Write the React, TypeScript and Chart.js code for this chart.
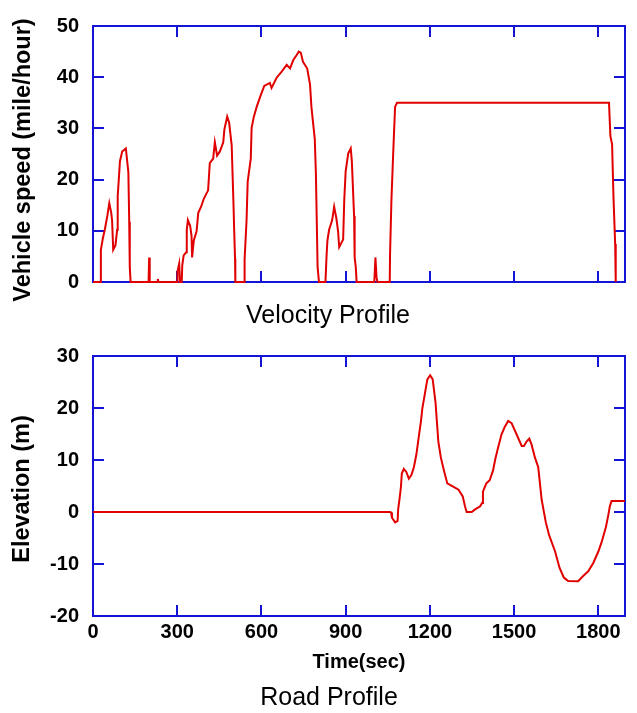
import React, { useEffect, useRef } from "react";
import { Chart, registerables } from "chart.js";

Chart.register(...registerables);

// ---------- data ----------
const velTime = [
  0, 19, 25, 28, 35, 42, 51, 58, 65, 68, 72, 80, 86, 88, 96, 104, 117, 126, 129, 131, 134,
  198, 200, 202, 230, 231, 233, 300, 301, 307, 310, 316, 318, 323, 332, 334, 338, 346, 351,
  353, 359, 369, 375, 385, 395, 410, 416, 428, 434, 442, 452, 464, 468, 478, 485, 494, 500,
  503, 506, 507, 538, 540, 547, 551, 562, 565, 573, 583, 595, 610, 630, 636, 654, 672, 690,
  702, 713, 725, 733, 740, 748, 763, 773, 778, 790, 794, 797, 800, 805, 828, 832, 835, 841,
  852, 859, 867, 873, 877, 891, 895, 900, 909, 918, 922, 930, 932, 936, 939, 1002, 1006,
  1010, 1013, 1057, 1058, 1063, 1069, 1076, 1083, 1838, 1843, 1849, 1854, 1860, 1862,
];
const velSpeed = [
  0, 0, 0, 6.3, 8.5, 10.2, 12.9, 15.4, 13.5, 12, 6.3, 7.2, 10.2, 16.7, 23.6, 25.5, 26.1, 21.4,
  11.7, 2.9, 0, 0, 4.8, 0, 0, 0.6, 0, 0, 2.1, 3.6, 0, 0, 3.3, 5.2, 5.8, 10.2, 12.1, 11.0, 9.0,
  4.8, 8.1, 9.9, 13.5, 14.7, 16.3, 17.9, 23.2, 24.1, 27.3, 24.7, 25.5, 27.3, 29.8, 32.3, 31.1,
  26.7, 16.0, 9.9, 4.6, 0, 0, 4.4, 12.1, 19.6, 24.1, 30.1, 32.3, 34.2, 36.1, 38.3, 38.9, 37.9,
  39.9, 41.1, 42.4, 41.7, 43.3, 44.3, 45.0, 44.8, 43.0, 41.7, 38.6, 34.2, 27.9, 21.1, 12.1,
  2.9, 0, 0, 5.2, 8.1, 10.2, 12.1, 14.7, 12.4, 9.9, 6.8, 8.3, 16.0, 21.6, 25.1, 26.1, 23.6,
  12.9, 4.8, 2.9, 0, 0, 4.8, 0.9, 0, 0, 5.2, 16.0, 24.7, 34.2, 35.0, 35.0, 28.5, 26.9, 16.5,
  7.4, 0,
];

const elevTime = [
  0, 1057, 1062, 1065, 1076, 1085, 1087, 1093, 1097, 1100, 1107, 1116, 1125, 1134, 1143, 1152,
  1160, 1168, 1173, 1183, 1191, 1201, 1210, 1220, 1230, 1239, 1250, 1262, 1283, 1302, 1317,
  1325, 1331, 1349, 1361, 1379, 1386, 1389, 1401, 1413, 1425, 1433, 1443, 1455, 1467, 1479,
  1491, 1509, 1527, 1535, 1545, 1554, 1562, 1574, 1586, 1598, 1613, 1625, 1646, 1662, 1677,
  1692, 1728, 1746, 1764, 1782, 1800, 1812, 1827, 1835, 1841, 1847, 1895,
];
const elevValue = [
  0, 0, -0.1, -1.1, -2.0, -1.7, 0.5, 3.0, 4.9, 7.4, 8.3, 7.7, 6.4, 7.1, 8.6, 11.1, 14.3, 17.4,
  19.9, 23.0, 25.5, 26.3, 25.5, 21.1, 13.6, 10.5, 8.0, 5.5, 4.9, 4.3, 3.0, 1.1, 0, 0, 0.5, 1.1,
  1.75, 3.9, 5.5, 6.1, 8.0, 10.2, 12.4, 14.9, 16.4, 17.5, 17.1, 14.9, 12.7, 12.7, 13.6, 14.1,
  13.0, 10.5, 8.6, 2.4, -2.0, -4.5, -7.6, -10.75, -12.6, -13.25, -13.3, -12.3, -11.4, -9.8,
  -7.6, -5.75, -2.9, -0.75, 1.1, 2.1, 2.1,
];

const timeTicks = [0, 300, 600, 900, 1200, 1500, 1800];
const speedTicks = [0, 10, 20, 30, 40, 50];
const elevTicks = [-20, -10, 0, 10, 20, 30];
const timeMax = 1895;

// ---------- style ----------
const AXIS = "rgb(20,20,215)";
const LINE = "rgb(225,0,0)";
const FONT = "'Liberation Sans', Arial, Helvetica, sans-serif";
const TICK_LEN = 11;

type FrameOpts = {
  yTitle: string;
  yTitleX: number;
  yTitleY: number;
  caption: string;
  captionX: number;
  captionY: number;
  yTicks: number[];
};

function framePlugin(o: FrameOpts) {
  return {
    id: "frame",
    beforeDatasetsDraw(chart: any) {
      const { ctx, chartArea: a, scales } = chart;
      const xs = scales.x;
      const ys = scales.y;
      ctx.save();
      ctx.strokeStyle = AXIS;
      ctx.lineWidth = 2;
      ctx.strokeRect(a.left, a.top, a.right - a.left, a.bottom - a.top);
      ctx.beginPath();
      for (const v of timeTicks) {
        const px = Math.round(xs.getPixelForValue(v));
        ctx.moveTo(px, a.bottom);
        ctx.lineTo(px, a.bottom - TICK_LEN);
        ctx.moveTo(px, a.top);
        ctx.lineTo(px, a.top + TICK_LEN);
      }
      for (const v of o.yTicks) {
        const py = Math.round(ys.getPixelForValue(v));
        ctx.moveTo(a.left, py);
        ctx.lineTo(a.left + TICK_LEN, py);
        ctx.moveTo(a.right, py);
        ctx.lineTo(a.right - TICK_LEN, py);
      }
      ctx.stroke();
      ctx.restore();
    },
    afterDraw(chart: any) {
      const { ctx } = chart;
      ctx.save();
      ctx.fillStyle = "#000";
      ctx.font = `bold 23.5px ${FONT}`;
      ctx.textAlign = "center";
      ctx.textBaseline = "middle";
      ctx.translate(o.yTitleX, o.yTitleY);
      ctx.rotate(-Math.PI / 2);
      ctx.fillText(o.yTitle, 0, 0);
      ctx.restore();
      ctx.save();
      ctx.fillStyle = "#000";
      ctx.font = `25px ${FONT}`;
      ctx.textAlign = "center";
      ctx.textBaseline = "alphabetic";
      ctx.fillText(o.caption, o.captionX, o.captionY);
      ctx.restore();
    },
  };
}

function toPoints(xs: number[], ys: number[]) {
  return xs.map((x, i) => ({ x, y: ys[i] }));
}

function makeConfig(
  xVals: number[],
  yVals: number[],
  yTicks: number[],
  showX: boolean,
  padTop: number,
  xHeight: number,
  padBottom: number,
  frame: FrameOpts
): any {
  return {
    type: "line",
    data: {
      datasets: [
        {
          data: toPoints(xVals, yVals),
          borderColor: LINE,
          borderWidth: 2,
          pointRadius: 0,
          tension: 0,
          fill: false,
          clip: 4,
        },
      ],
    },
    options: {
      animation: false,
      responsive: false,
      events: [],
      layout: { padding: { left: 0, right: 12, top: padTop, bottom: padBottom } },
      plugins: { legend: { display: false }, tooltip: { enabled: false }, title: { display: false } },
      scales: {
        x: {
          type: "linear",
          min: 0,
          max: timeMax,
          display: showX,
          grid: { display: false, drawTicks: false },
          border: { display: false },
          afterBuildTicks: (s: any) => {
            s.ticks = timeTicks.map((v) => ({ value: v }));
          },
          afterFit: (s: any) => {
            s.height = xHeight;
          },
          ticks: {
            color: "#000",
            padding: 4,
            maxRotation: 0,
            autoSkip: false,
            callback: (v: any) => String(v),
            font: { family: FONT, size: 20, weight: "bold" },
          },
          title: {
            display: showX,
            text: "Time(sec)",
            color: "#000",
            font: { family: FONT, size: 20, weight: "bold" },
            padding: { top: 0, bottom: 39 },
          },
        },
        y: {
          type: "linear",
          min: yTicks[0],
          max: yTicks[yTicks.length - 1],
          grid: { display: false, drawTicks: false },
          border: { display: false },
          afterBuildTicks: (s: any) => {
            s.ticks = yTicks.map((v) => ({ value: v }));
          },
          afterFit: (s: any) => {
            s.width = 93;
          },
          ticks: {
            color: "#000",
            padding: 14,
            callback: (v: any) => String(v),
            font: { family: FONT, size: 20, weight: "bold" },
          },
        },
      },
    },
    plugins: [framePlugin(frame)],
  };
}

function ChartCanvas({ config, width, height, top }: any) {
  const ref = useRef<HTMLCanvasElement | null>(null);
  useEffect(() => {
    if (!ref.current) return;
    const chart = new Chart(ref.current, config);
    return () => chart.destroy();
  }, []);
  return (
    <canvas
      ref={ref}
      width={width}
      height={height}
      style={{ position: "absolute", left: 0, top, width, height, display: "block" }}
    />
  );
}

export default function App() {
  const topCfg = makeConfig(velTime, velSpeed, speedTicks, false, 16, 0, 48, {
    yTitle: "Vehicle speed (mile/hour)",
    yTitleX: 24,
    yTitleY: 160,
    caption: "Velocity Profile",
    captionX: 328,
    captionY: 323,
    yTicks: speedTicks,
  });
  const bottomCfg = makeConfig(elevTime, elevValue, elevTicks, true, 19, 97, 0, {
    yTitle: "Elevation (m)",
    yTitleX: 23,
    yTitleY: 159,
    caption: "Road Profile",
    captionX: 329,
    captionY: 375,
    yTicks: elevTicks,
  });
  return (
    <div style={{ position: "absolute", left: 0, top: 0, width: 637, height: 713, background: "#fff" }}>
      <ChartCanvas config={topCfg} width={637} height={330} top={0} />
      <ChartCanvas config={bottomCfg} width={637} height={383} top={330} />
    </div>
  );
}
